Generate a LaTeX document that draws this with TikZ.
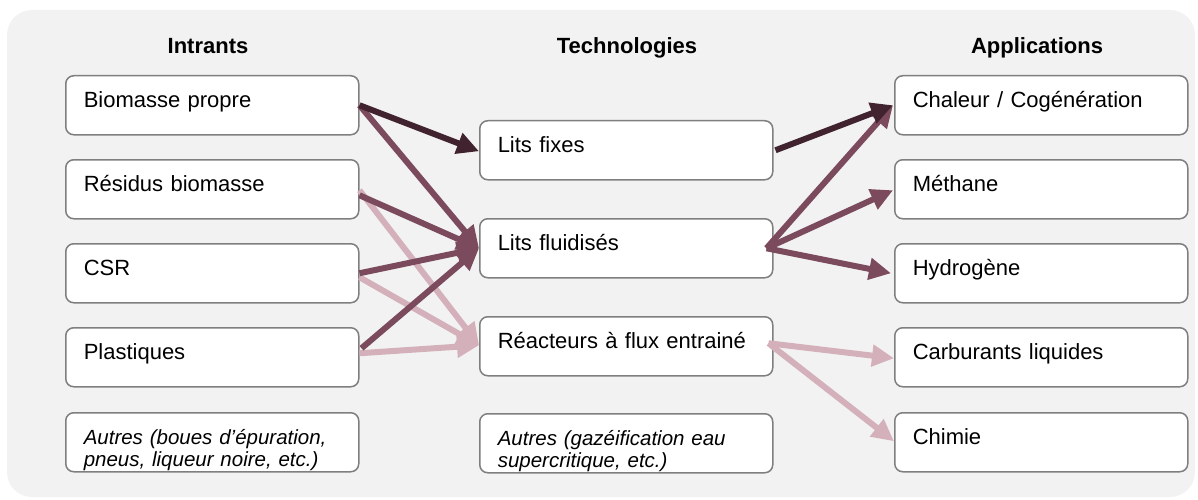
\documentclass[tikz,border=0pt]{standalone}
\usepackage{fontspec}
\setmainfont{Liberation Sans}
\usetikzlibrary{arrows.meta}
\definecolor{panel}{HTML}{F2F2F2}
\definecolor{boxline}{HTML}{7F7F7F}
\definecolor{flowdark}{HTML}{40232E}
\definecolor{flowmid}{HTML}{7B4B5D}
\definecolor{flowlight}{HTML}{D4B1BA}
\newcommand\regfont{\fontsize{22}{26}\selectfont}
\newcommand\notefont{\fontsize{20.5}{22}\selectfont\itshape}
\tikzset{
  box/.style={draw=boxline, line width=1.5pt, fill=white, rounded corners=8pt,
    minimum width=293pt, minimum height=59pt, inner xsep=18pt, inner ysep=0pt,
    text width=257pt, align=left, text height=32pt, text depth=27pt,
    anchor=north west, font=\regfont},
  notebox/.style={box, font=\notefont, text height=31pt},
  head/.style={anchor=base, font=\regfont\bfseries},
  flow/.style={line width=6pt, -{Triangle[length=22pt, width=21pt]}},
  fdark/.style={flow, draw=flowdark, fill=flowdark},
  fmid/.style={flow, draw=flowmid, fill=flowmid},
  flight/.style={flow, draw=flowlight, fill=flowlight}
}
\begin{document}
\begin{tikzpicture}[x=1pt, y=-1pt]
\useasboundingbox (0,0) rectangle (1198,500);
% grey panel
\fill[panel, rounded corners=25pt] (7,10) rectangle (1195,497);

% column headings
\node[head] (hin) at (208,54) {Intrants};
\node[head] (htech) at (627,54) {Technologies};
\node[head] (happ) at (1037,54) {Applications};

% inputs
\node[box] (bp)  at (65,75)  {Biomasse propre};
\node[box] (res) at (65,159) {Résidus biomasse};
\node[box] (csr) at (65,243) {CSR};
\node[box] (pla) at (65,327) {Plastiques};
\node[notebox] (ain) at (65,412) {Autres (boues d’épuration,\\pneus, liqueur noire, etc.)};

% technologies
\node[box] (lfix) at (479,120) {Lits fixes};
\node[box] (lflu) at (479,218) {Lits fluidisés};
\node[box] (rea)  at (479,316) {Réacteurs à flux entrainé};
\node[notebox] (atech) at (479,413) {Autres (gazéification eau\\supercritique, etc.)};

% applications
\node[box] (chal) at (894,75)  {Chaleur / Cogénération};
\node[box] (meth) at (894,159) {Méthane};
\node[box] (hyd)  at (894,243) {Hydrogène};
\node[box] (carb) at (894,327) {Carburants liquides};
\node[box] (chim) at (894,412) {Chimie};

% light flows (entrained-flow reactors)
\draw[flight] ([yshift=-1pt]res.east) -- ([yshift=1pt]rea.west);
\draw[flight] ([yshift=-4pt]csr.east) -- ([yshift=1pt]rea.west);
\draw[flight] ([yshift=4pt]pla.east) -- ([yshift=1pt]rea.west);
\draw[flight] ([xshift=-5pt,yshift=3pt]rea.east) -- ([yshift=-1pt]carb.west);
\draw[flight] ([xshift=-5pt,yshift=3pt]rea.east) -- ([yshift=1pt]chim.west);

% medium flows (fluidised beds)
\draw[fmid] (bp.east) -- (lflu.west);
\draw[fmid] ([yshift=-6pt]res.east) -- (lflu.west);
\draw[fmid] (csr.east) -- (lflu.west);
\draw[fmid] ([xshift=2pt,yshift=9pt]pla.east) -- (lflu.west);
\draw[fmid] ([xshift=-7pt]lflu.east) -- ([xshift=-1pt]chal.west);
\draw[fmid] ([xshift=-7pt]lflu.east) -- ([xshift=-1pt,yshift=-1pt]meth.west);
\draw[fmid] ([xshift=-7pt]lflu.east) -- ([xshift=-3pt]hyd.west);

% dark flows (fixed beds)
\draw[fdark] (bp.east) -- ([yshift=-1pt]lfix.west);
\draw[fdark] ([xshift=2pt]lfix.east) -- ([xshift=-1pt]chal.west);
\end{tikzpicture}
\end{document}
